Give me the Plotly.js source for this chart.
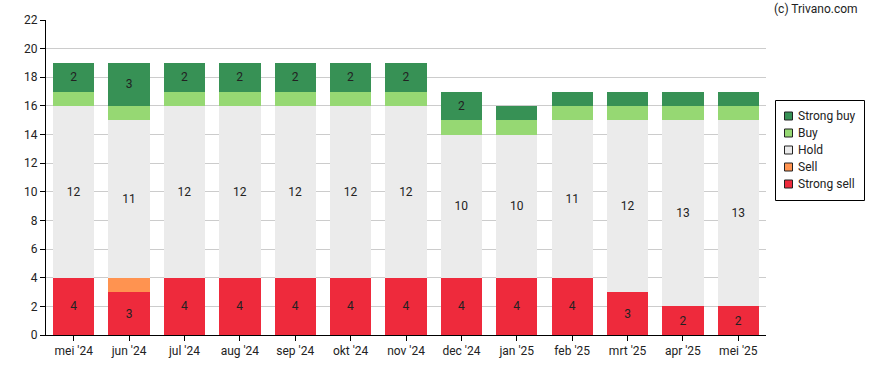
<!DOCTYPE html>
<html>
<head>
<meta charset="utf-8">
<script src="https://cdn.plot.ly/plotly-3.0.1.min.js"></script>
<style>html,body{margin:0;padding:0;background:#fff;}#chart{width:888px;height:370px;}</style>
</head>
<body>
<div id="chart"></div>
<script>
const months = ["mei '24","jun '24","jul '24","aug '24","sep '24","okt '24","nov '24","dec '24","jan '25","feb '25","mrt '25","apr '25","mei '25"];
const strongSell = [4,3,4,4,4,4,4,4,4,4,3,2,2];
const sell       = [0,1,0,0,0,0,0,0,0,0,0,0,0];
const hold       = [12,11,12,12,12,12,12,10,10,11,12,13,13];
const buy        = [1,1,1,1,1,1,1,1,1,1,1,1,1];
const strongBuy  = [2,3,2,2,2,2,2,2,1,1,1,1,1];
const seriesNames = ['Strong buy','Buy','Hold','Sell','Strong sell'];
const seriesColors = ['#379155','#96D873','#EBEBEB','#FF9350','#EE2A3C'];

const yTicks = [0,2,4,6,8,10,12,14,16,18,20,22];

// plot area geometry (pixels)
const W = 888, H = 370, L = 46, R = 122, T = 20, B = 35;
const pw = W - L - R, ph = H - T - B;
const px = x => (x - L) / pw;
const py = y => (H - B - y) / ph;

function lbl(arr){ return arr.map(v => v >= 2 ? String(v) : ''); }
function mk(name, y, color){
  return {
    type:'bar', name:name, x:months, y:y, marker:{color:color, line:{width:0}},
    text: name === 'Hold' ? y.map(String) : lbl(y),
    textposition:'inside', insidetextanchor:'middle', textangle:0,
    constraintext:'none',
    insidetextfont:{family:'Roboto, Arial, sans-serif', size:12, color:'#222'},
    hoverinfo:'skip', showlegend:false
  };
}
const data = [
  mk('Strong sell', strongSell, seriesColors[4]),
  mk('Sell', sell, seriesColors[3]),
  mk('Hold', hold, seriesColors[2]),
  mk('Buy', buy, seriesColors[1]),
  mk('Strong buy', strongBuy, seriesColors[0])
];

// custom legend
const shapes = [{type:'rect', xref:'paper', yref:'paper',
  x0:px(775.5), x1:px(864.5), y0:py(100.5), y1:py(200.5),
  line:{color:'#000', width:1}, fillcolor:'#fff', layer:'above'}];
const annotations = [{text:'(c) Trivano.com', xref:'paper', yref:'paper', x:px(772), y:py(9),
    xanchor:'left', yanchor:'middle', showarrow:false,
    font:{family:'Roboto, Arial, sans-serif', size:12, color:'#222'}}];
seriesNames.forEach((n, i) => {
  const cy = 116 + i * 17;
  shapes.push({type:'rect', xref:'paper', yref:'paper',
    x0:px(784.5), x1:px(792.5), y0:py(cy - 4), y1:py(cy + 4),
    line:{color:'#222', width:1}, fillcolor:seriesColors[i], layer:'above'});
  annotations.push({text:n, xref:'paper', yref:'paper', x:px(796), y:py(cy),
    xanchor:'left', yanchor:'middle', showarrow:false,
    font:{family:'Roboto, Arial, sans-serif', size:12, color:'#222'}});
});

const layout = {
  width:W, height:H,
  margin:{l:L, r:R, t:T, b:B},
  barmode:'stack', bargap:0.254,
  paper_bgcolor:'#fff', plot_bgcolor:'#fff',
  font:{family:'Roboto, Arial, sans-serif', size:12, color:'#222'},
  showlegend:false,
  xaxis:{type:'category', showline:true, linecolor:'#000', linewidth:1,
    ticks:'outside', ticklen:5, tickcolor:'#000', showgrid:false,
    tickfont:{size:12, color:'#222'}},
  yaxis:{range:[0,22], tickvals:yTicks, showline:true, linecolor:'#000', linewidth:1,
    ticks:'outside', ticklen:5, tickcolor:'#000', showgrid:true, gridcolor:'#cccccc',
    zeroline:false, tickfont:{size:12, color:'#222'}},
  shapes:shapes,
  annotations:annotations
};
Plotly.newPlot('chart', data, layout, {displayModeBar:false, staticPlot:true});
</script>
</body>
</html>
